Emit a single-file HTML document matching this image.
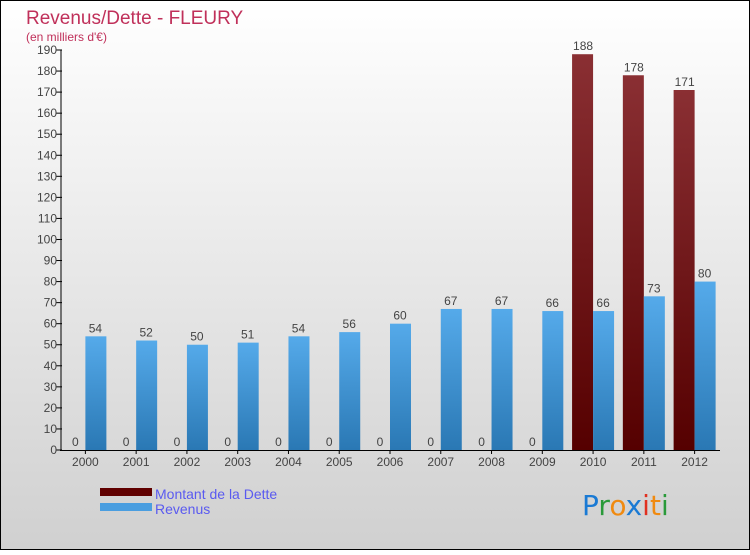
<!DOCTYPE html>
<html><head><meta charset="utf-8"><style>
body{margin:0;width:750px;height:550px;overflow:hidden;font-family:"Liberation Sans",sans-serif}
</style></head><body>
<svg id="chart" width="750" height="550" xmlns="http://www.w3.org/2000/svg">
<defs>
<linearGradient id="bg" x1="0" y1="0" x2="0" y2="1"><stop offset="0" stop-color="#ffffff"/><stop offset="1" stop-color="#d0d0d0"/></linearGradient>
<linearGradient id="gd" x1="0" y1="0" x2="0" y2="1"><stop offset="0" stop-color="#8a2f33"/><stop offset="1" stop-color="#550000"/></linearGradient>
<linearGradient id="gr" x1="0" y1="0" x2="0" y2="1"><stop offset="0" stop-color="#55aaea"/><stop offset="1" stop-color="#2a78b4"/></linearGradient>
</defs>
<rect x="0.5" y="0.5" width="749" height="549" fill="url(#bg)" stroke="#000"/>
<text x="26" y="24" font-size="19" fill="#c0305a">Revenus/Dette - FLEURY</text>
<text x="26" y="41" font-size="12" fill="#c0305a">(en milliers d'€)</text>
<g id="plot"></g>
<g>
<rect x="100" y="488" width="52" height="8" fill="#600000"/>
<text x="155" y="499" font-size="14" fill="#5a5af0">Montant de la Dette</text>
<rect x="100" y="503" width="52" height="8" fill="#4a9ee0"/>
<text x="155" y="514" font-size="14" fill="#5a5af0">Revenus</text>
</g>
<g font-size="28" font-family="'DejaVu Sans',sans-serif">
<text x="582" y="515"><tspan fill="#1a7ad4">P</tspan><tspan fill="#2a9a3a">r</tspan><tspan fill="#f08a10">o</tspan><tspan fill="#1a7ad4">x</tspan><tspan fill="#e03020">i</tspan><tspan fill="#f08a10">t</tspan><tspan fill="#2a9a3a">i</tspan></text>
</g>
</svg>
<script>
const categories=["2000","2001","2002","2003","2004","2005","2006","2007","2008","2009","2010","2011","2012"];
const dette=[0,0,0,0,0,0,0,0,0,0,188,178,171];
const revenus=[54,52,50,51,54,56,60,67,67,66,66,73,80];
const yTicks=[0,10,20,30,40,50,60,70,80,90,100,110,120,130,140,150,160,170,180,190];
const NS="http://www.w3.org/2000/svg";
const g=document.getElementById('plot');
const x0=60,x1=720,y0=450,yTop=50,yMax=190;
const bw=(x1-x0)/categories.length;
const y=v=>y0-(v/yMax)*(y0-yTop);
const cx=i=>x0+bw*(i+0.5);
function mk(t,a){const e=document.createElementNS(NS,t);for(const k in a)e.setAttribute(k,a[k]);g.appendChild(e);return e;}
yTicks.forEach(t=>{
 const l=mk('line',{x1:x0-4,x2:x0+2,y1:y(t),y2:y(t),stroke:'#000'});
 
 
 const tx=mk('text',{x:x0-3,y:y(t)+4,'text-anchor':'end','font-size':12,fill:'#444'});
 tx.textContent=t;
 
 
});
categories.forEach((c,i)=>{
 const d=mk('rect',{x:cx(i)-21,y:y(dette[i]),width:21,height:y0-y(dette[i]),fill:'url(#gd)'});
 
 
 const r=mk('rect',{x:cx(i),y:y(revenus[i]),width:21,height:y0-y(revenus[i]),fill:'url(#gr)'});
 
 
 const dl=mk('text',{x:cx(i)-10,y:y(dette[i])-4,'text-anchor':'middle','font-size':12,fill:'#444'});
 dl.textContent=dette[i];
 
 
 const rl=mk('text',{x:cx(i)+10,y:y(revenus[i])-4,'text-anchor':'middle','font-size':12,fill:'#444'});
 rl.textContent=revenus[i];
 
 
 const tk=mk('line',{x1:cx(i),x2:cx(i),y1:y0,y2:y0+4,stroke:'#000'});
 
 
 const xl=mk('text',{x:cx(i),y:y0+16,'text-anchor':'middle','font-size':12,fill:'#444'});
 xl.textContent=c;
 
 
});
const ya=mk('line',{x1:x0+1,x2:x0+1,y1:yTop,y2:y0,stroke:'#000'});


const xa=mk('line',{x1:x0,x2:x1,y1:y0+0.5,y2:y0+0.5,stroke:'#000'});


</script>
</body></html>
